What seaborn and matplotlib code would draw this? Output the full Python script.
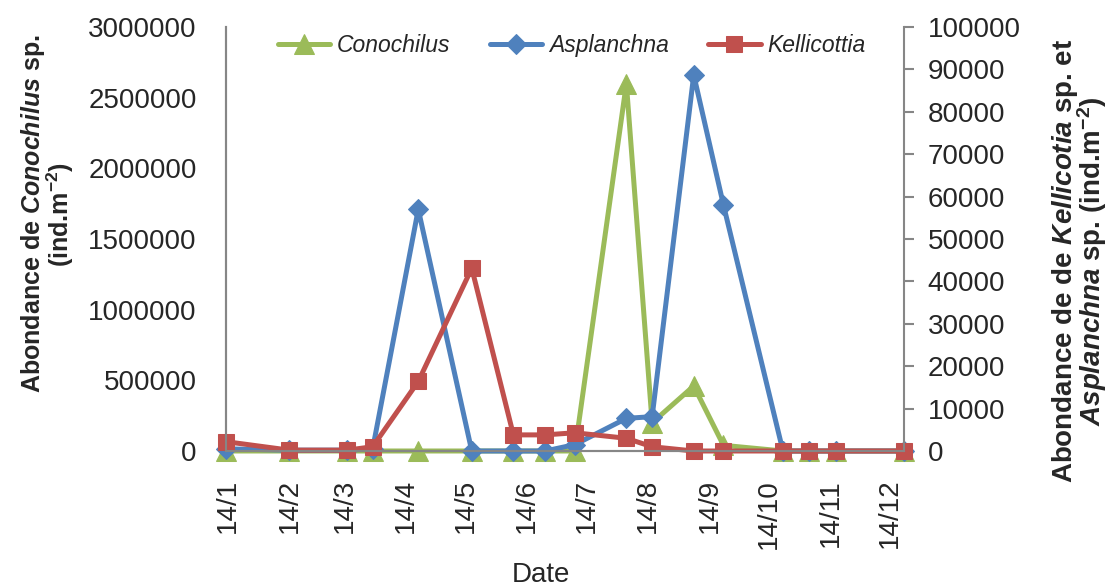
import numpy as np
import pandas as pd
import matplotlib
matplotlib.use("Agg")
import matplotlib.pyplot as plt
import matplotlib.ticker as mticker
import seaborn as sns

# ===================== DATA =====================
dates = pd.to_datetime([
    "2013-01-13", "2013-02-14", "2013-03-15", "2013-03-28", "2013-04-20",
    "2013-05-17", "2013-06-07", "2013-06-23", "2013-07-08", "2013-08-03",
    "2013-08-16", "2013-09-06", "2013-09-21", "2013-10-21", "2013-11-03",
    "2013-11-17", "2013-12-21",
])
conochilus = [0, 0, 0, 0, 0, 0, 0, 0, 0, 2600000,
              200000, 460000, 40000, 0, 0, 0, 0]
asplanchna = [500, 200, 200, 500, 57000, 0, 0, 0, 1500, 7700,
              8100, 88700, 58000, 0, 0, 0, 0]
kellicottia = [2200, 200, 200, 1000, 16400, 43100, 3800, 3800, 4300, 3000,
               1000, 0, 0, 0, 0, 0, 0]

tick_dates = pd.date_range("2013-01-14", periods=12, freq=pd.DateOffset(months=1))
tick_labels = ["14/1", "14/2", "14/3", "14/4", "14/5", "14/6",
               "14/7", "14/8", "14/9", "14/10", "14/11", "14/12"]

# ===================== STYLE =====================
sns.set_style("white")
plt.rcParams["font.family"] = ["Liberation Sans", "DejaVu Sans"]
plt.rcParams["mathtext.fontset"] = "custom"
plt.rcParams["mathtext.rm"] = "Liberation Sans:bold"
plt.rcParams["mathtext.it"] = "Liberation Sans:bold:italic"
plt.rcParams["mathtext.bf"] = "Liberation Sans:bold"

GREEN, BLUE, RED = "#9BBB59", "#4F81BD", "#C0504D"
AXC = "#868686"

fig = plt.figure(figsize=(11.09, 5.88), dpi=100)
ax = fig.add_axes([0.2038, 0.233, 0.6112, 0.721])
ax2 = ax.twinx()

df = pd.DataFrame({"date": dates, "Conochilus": conochilus,
                   "Asplanchna": asplanchna, "Kellicottia": kellicottia})

sns.lineplot(data=df, x="date", y="Conochilus", ax=ax, color=GREEN, lw=3.6,
             marker="^", markersize=14, markeredgecolor=GREEN,
             label="Conochilus", clip_on=False, legend=False)
sns.lineplot(data=df, x="date", y="Asplanchna", ax=ax2, color=BLUE, lw=3.6,
             marker="D", markersize=10.5, markeredgecolor=BLUE,
             label="Asplanchna", clip_on=False, legend=False)
sns.lineplot(data=df, x="date", y="Kellicottia", ax=ax2, color=RED, lw=3.6,
             marker="s", markersize=12, markeredgecolor=RED,
             label="Kellicottia", clip_on=False, legend=False)

# ===================== AXES =====================
ax.set_xlim(dates[0], dates[-1])
ax.set_ylim(0, 3000000)
ax2.set_ylim(0, 100000)
ax.set_yticks(np.arange(0, 3000001, 500000))
ax2.set_yticks(np.arange(0, 100001, 10000))
ax.set_xticks(tick_dates)
ax.set_xticklabels(tick_labels, rotation=90)

for a in (ax, ax2):
    for s in a.spines.values():
        s.set_color(AXC)
        s.set_linewidth(1.5)
    a.spines["top"].set_visible(False)
ax.spines["right"].set_visible(False)

ax.tick_params(axis="y", length=0, pad=21, labelsize=20)
ax.tick_params(axis="x", length=0, pad=20, labelsize=20)
ax2.tick_params(axis="y", length=7, width=1.5, color=AXC, pad=10, labelsize=20)
ax.yaxis.set_major_formatter(mticker.FuncFormatter(lambda v, p: f"{int(v)}"))
ax2.yaxis.set_major_formatter(mticker.FuncFormatter(lambda v, p: f"{int(v)}"))

ax.set_xlabel("Date", fontsize=20)
ax.xaxis.set_label_coords(0.465, -0.262)
ax.set_ylabel("Abondance de $\\mathit{Conochilus}$ sp.\n(ind.m$^{-2}$)",
              fontsize=18, fontweight="bold", linespacing=0.9)
ax.yaxis.set_label_coords(-0.221, 0.559)
ax2.set_ylabel("Abondance de de $\\mathit{Kellicotia}$ sp. et\n"
               "$\\mathit{Asplanchna}$ sp. (ind.m$^{-2}$)",
               fontsize=20, fontweight="bold", linespacing=0.82, rotation=90)
ax2.yaxis.set_label_coords(1.215, 0.448)
ax2.set_zorder(ax.get_zorder() + 1)

# ===================== LEGEND =====================
h1, l1 = ax.get_legend_handles_labels()
h2, l2 = ax2.get_legend_handles_labels()
leg = ax2.legend(h1 + h2, l1 + l2, loc="center", bbox_to_anchor=(0.51, 0.957),
                 ncol=3, frameon=False, handlelength=2.3, columnspacing=1.7,
                 handletextpad=0.3, prop={"style": "italic", "size": 16.5})

fig.savefig("out.png", dpi=100)
